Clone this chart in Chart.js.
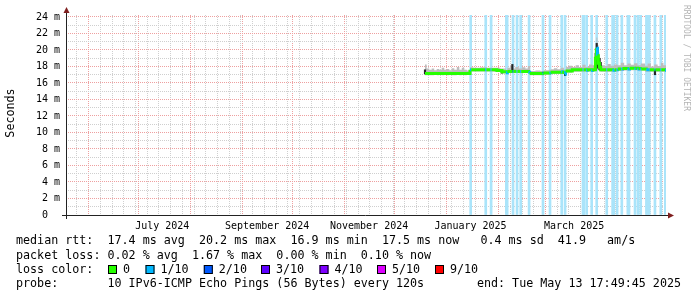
<!DOCTYPE html>
<html>
<head>
<meta charset="utf-8">
<title>SmokePing median rtt</title>
<script src="https://cdn.jsdelivr.net/npm/chart.js@4.4.1/dist/chart.umd.min.js"></script>
<style>
  html, body { margin: 0; padding: 0; background: #fff; }
  #wrap { width: 697px; height: 297px; }
</style>
</head>
<body>
<div id="wrap"><canvas id="smoke" width="697" height="297"></canvas></div>
<script>
"use strict";
// x values are days counted from 2025-01-01 00:00
const X_MIN = -227.5;
const X_MAX = 131.0;
const Y_MAX = 24.24;

const yTicks = [0, 1, 2, 3, 4, 5, 6, 7, 8, 9, 10, 11, 12, 13, 14, 15, 16, 17, 18, 19, 20, 21, 22, 23, 24];
const monthStarts = [-214, -184, -153, -122, -92, -61, -31, 0, 31, 59, 90, 120];
const monthLabels = ["July 2024", "September 2024", "November 2024", "January 2025", "March 2025"];
const monthLabelDays = [-170, -107.3, -46.4, 14.2, 76.1];

// median rtt (ms), step values starting at each day
const rttDays = [-13.0, 13.9, 14.6, 22.9, 23.7, 26.2, 26.8, 30.0, 33.0, 35.4, 36.2, 39.3, 39.9, 41.7, 42.3, 43.9,
  44.5, 48.9, 49.5, 57.2, 57.8, 61.4, 62.0, 68.4, 69.0, 70.4, 71.0, 75.0, 81.2, 81.8, 83.3, 83.9, 86.3, 86.9,
  88.8, 89.4, 90.0, 90.6, 91.2, 92.0, 95.3, 95.9, 99.0, 100.2, 101.5, 102.1, 104.3, 104.9, 108.0, 109.2, 112.2,
  112.8, 114.0, 114.6, 115.6, 116.2, 119.2, 121.3, 124.1, 124.7, 127.6, 128.2, 130.4, 131.0];
const rttMedian = [17.15, 17.6, 17.6, 17.6, 17.6, 17.6, 17.6, 17.5, 17.35, 17.25, 17.4, 17.4, 17.4, 17.4, 17.4, 17.4,
  17.4, 17.3, 17.15, 17.2, 17.2, 17.25, 17.3, 17.35, 17.3, 17.1, 17.45, 17.6, 17.6, 17.6, 17.55, 17.6, 17.5, 17.6,
  19.0, 20.2, 19.3, 18.4, 17.9, 17.6, 17.6, 17.6, 17.55, 17.6, 17.6, 17.7, 17.7, 17.75, 17.7, 17.8, 17.75,
  17.8, 17.7, 17.75, 17.7, 17.7, 17.6, 17.6, 17.6, 17.6, 17.6, 17.6, 17.55, 17.55];
const rttLoss = [0, 1, 0, 1, 0, 1, 0, 0, 0, 1, 0, 1, 0, 1, 0, 1,
  0, 1, 0, 1, 0, 1, 0, 1, 0, 1, 0, 0, 1, 0, 1, 0, 1, 0,
  0, 1, 0, 0, 0, 0, 1, 0, 1, 0, 1, 0, 1, 0, 1, 0, 1,
  0, 1, 0, 1, 0, 1, 0, 1, 0, 1, 0, 1, 1];

// smoke envelope (ms)
const smokeDays = [-13.0, -12.0, -10.5, -9.0, -7.5, -6.0, -4.5, -3.0, -1.5, 0.0, 1.5, 3.0, 4.5, 6.0, 7.5, 9.0, 10.5,
  12.0, 13.9, 16.0, 20.0, 24.0, 28.0, 32.0, 35.4, 36.2, 38.0, 39.6, 41.0, 43.0, 45.0, 47.0, 48.5, 49.8, 53.0, 56.0,
  58.0, 61.0, 62.3, 64.0, 66.0, 68.0, 70.0, 71.3, 73.0, 75.0, 77.0, 79.0, 81.0, 83.0, 85.0, 87.0, 88.8, 89.4, 90.0,
  90.6, 91.2, 92.0, 94.0, 96.0, 98.0, 100.0, 102.0, 104.0, 106.0, 108.0, 110.0, 112.0, 114.0, 116.0, 118.5, 120.0,
  122.0, 124.0, 126.0, 128.0, 129.5, 131.0];
const smokeLow = [16.95, 16.95, 16.95, 16.95, 17.0, 16.95, 17.0, 16.95, 17.0, 16.95, 17.0, 16.95, 16.95, 17.0, 16.95, 17.0, 16.95,
  17.0, 17.4, 17.4, 17.4, 17.4, 17.35, 17.15, 17.05, 17.2, 17.2, 17.2, 17.2, 17.2, 17.2, 17.2, 17.15, 16.95, 16.95, 16.95,
  17.0, 17.0, 17.1, 17.1, 17.1, 17.1, 16.95, 17.25, 17.25, 17.35, 17.35, 17.35, 17.35, 17.35, 17.35, 17.35, 17.5, 17.7, 17.6,
  17.5, 17.4, 17.35, 17.35, 17.35, 17.35, 17.35, 17.45, 17.45, 17.5, 17.5, 17.55, 17.55, 17.5, 17.5, 17.35, 17.35,
  17.35, 17.35, 17.35, 17.35, 17.35, 17.35];
const smokeHigh = [18.25, 17.75, 17.6, 17.75, 17.55, 17.7, 17.6, 17.85, 17.6, 17.7, 17.55, 17.8, 17.6, 17.95, 17.6, 17.85, 17.6,
  17.5, 17.9, 17.85, 17.9, 17.85, 17.85, 17.75, 17.55, 17.85, 18.05, 17.75, 17.95, 17.75, 17.9, 17.75, 18.05, 17.45, 17.5, 17.45,
  17.55, 17.6, 17.65, 17.8, 17.65, 17.85, 17.6, 17.95, 18.1, 17.95, 18.15, 17.95, 18.2, 17.95, 18.25, 18.15, 19.6, 21.5, 20.6,
  19.7, 18.9, 18.15, 18.05, 18.3, 18.1, 18.25, 18.15, 18.45, 18.15, 18.35, 18.2, 18.4, 18.15, 18.35, 18.1, 18.35,
  18.0, 18.25, 18.05, 18.45, 18.15, 18.05];

// dark smoke strokes (ms)
const spikeDays = [-13.0, 33.0, 39.2, 57.3, 70.7, 89.0, 89.6, 90.1, 91.3, 92.0, 124.4];
const spikeLow = [17.1, 17.2, 17.3, 17.0, 16.9, 17.6, 18.0, 17.8, 17.6, 17.6, 17.0];
const spikeHigh = [17.6, 17.5, 18.25, 17.3, 17.4, 19.6, 20.8, 20.3, 19.0, 18.5, 17.6];

// intervals with packet loss
const lossDays = [14.3, 23.3, 26.5, 35.6, 36.1, 39.6, 42.0, 44.2, 49.2, 57.5, 61.7, 68.7, 70.7, 81.4, 81.9, 83.6,
  86.6, 89.6, 95.6, 99.1, 99.8, 101.8, 104.6, 108.2, 108.9, 112.5, 114.3, 115.9, 119.3, 119.9, 121.0, 124.4,
  127.9, 130.6];

const LOSS_COLORS = ["#26ff00", "#00b8ff", "#0059ff", "#5e00ff", "#7e00ff", "#dd00ff", "#ff0000"];
const LOSS_LABELS = ["0", "1/10", "2/10", "3/10", "4/10", "5/10", "9/10"];
const GRID = "#cfcfcf";
const MGRID = "#eea0a0";
const MONO = '"DejaVu Sans Mono", monospace';

// weekly grid lines fall on saturdays
const weekLines = [];
for (let d = 3 - 7 * 32; d < X_MAX; d += 7) weekLines.push(d);

const legendSwatchX = [108, 145.5, 203.8, 261, 319.5, 377, 435];

const rrdDecor = {
  id: "rrdDecor",
  afterDraw(chart) {
    const { ctx, chartArea: a } = chart;
    ctx.save();
    ctx.strokeStyle = "#222";
    ctx.lineWidth = 1;
    ctx.beginPath();
    ctx.moveTo(a.left + 0.5, a.bottom + 4);
    ctx.lineTo(a.left + 0.5, a.top - 3);
    ctx.moveTo(a.left - 4, a.bottom + 0.5);
    ctx.lineTo(a.right + 3, a.bottom + 0.5);
    ctx.stroke();

    ctx.fillStyle = "#7f1f1f";
    ctx.beginPath();
    ctx.moveTo(a.left + 0.5, a.top - 8);
    ctx.lineTo(a.left - 2.5, a.top - 2);
    ctx.lineTo(a.left + 3.5, a.top - 2);
    ctx.fill();
    ctx.beginPath();
    ctx.moveTo(a.right + 8, a.bottom + 0.5);
    ctx.lineTo(a.right + 2, a.bottom - 2.5);
    ctx.lineTo(a.right + 2, a.bottom + 3.5);
    ctx.fill();

    ctx.fillStyle = "#000";
    ctx.font = "11.7px " + MONO;
    ctx.textBaseline = "middle";
    ctx.save();
    ctx.translate(11, 113);
    ctx.rotate(-Math.PI / 2);
    ctx.textAlign = "center";
    ctx.fillText("Seconds", 0, 0);
    ctx.restore();

    ctx.textAlign = "left";
    ctx.fillText("median rtt:  17.4 ms avg  20.2 ms max  16.9 ms min  17.5 ms now   0.4 ms sd  41.9   am/s", 16, 241);
    ctx.fillText("packet loss: 0.02 % avg  1.67 % max  0.00 % min  0.10 % now", 16, 255.5);
    ctx.fillText("loss color:", 16, 269.5);
    LOSS_COLORS.forEach((c, i) => {
      const x = legendSwatchX[i];
      ctx.fillStyle = c;
      ctx.fillRect(x, 265, 9, 9);
      ctx.strokeStyle = "#000";
      ctx.strokeRect(x + 0.5, 265.5, 8, 8);
      ctx.fillStyle = "#000";
      ctx.fillText(LOSS_LABELS[i], x + 15, 269.5);
    });
    ctx.fillText("probe:       10 IPv6-ICMP Echo Pings (56 Bytes) every 120s", 16, 283.5);
    ctx.textAlign = "right";
    ctx.fillText("end: Tue May 13 17:49:45 2025", 681, 283.5);

    ctx.save();
    ctx.translate(686, 5);
    ctx.rotate(Math.PI / 2);
    ctx.textAlign = "left";
    ctx.fillStyle = "#b4b4b4";
    ctx.font = "8px " + MONO;
    ctx.fillText("RRDTOOL / TOBI OETIKER", 0, 0);
    ctx.restore();
    ctx.restore();
  },
};

const smokeCtx = document.getElementById("smoke");
const smokeChart = new Chart(smokeCtx, {
  type: "line",
  data: {
    datasets: [
      {
        type: "bar",
        label: "loss",
        data: lossDays.map((d) => ({ x: d, y: Y_MAX })),
        backgroundColor: "#aae4fa",
        barThickness: 2,
        stack: "marks",
        order: 6,
      },
      {
        label: "smoke min",
        data: smokeDays.map((d, i) => ({ x: d, y: smokeLow[i] })),
        borderColor: "transparent",
        borderWidth: 0,
        pointRadius: 0,
        stepped: true,
        fill: false,
        order: 5,
      },
      {
        label: "smoke max",
        data: smokeDays.map((d, i) => ({ x: d, y: smokeHigh[i] })),
        borderColor: "transparent",
        borderWidth: 0,
        backgroundColor: "#bdbdbd",
        pointRadius: 0,
        stepped: true,
        fill: "-1",
        order: 4,
      },
      {
        type: "bar",
        label: "smoke core",
        data: spikeDays.map((d, i) => ({ x: d, y: [spikeLow[i], spikeHigh[i]] })),
        backgroundColor: "#262626",
        barThickness: 1.5,
        stack: "marks",
        order: 3,
      },
      {
        label: "median rtt",
        data: rttDays.map((d, i) => ({ x: d, y: rttMedian[i] })),
        borderColor: LOSS_COLORS[0],
        borderWidth: 3,
        borderCapStyle: "butt",
        pointRadius: 0,
        stepped: true,
        fill: false,
        segment: {
          borderColor: (c) => LOSS_COLORS[rttLoss[c.p0DataIndex]],
        },
        order: 1,
      },
    ],
  },
  options: {
    responsive: false,
    animation: false,
    devicePixelRatio: 1,
    layout: { padding: { left: 0, top: 15, right: 31, bottom: 57 } },
    plugins: { legend: { display: false }, tooltip: { enabled: false } },
    scales: {
      x: {
        type: "linear",
        position: "bottom",
        min: X_MIN,
        max: X_MAX,
        offset: false,
        grid: { display: false, offset: false, drawTicks: false },
        border: { display: false },
        afterBuildTicks: (s) => {
          s.ticks = monthLabelDays.map((v) => ({ value: v }));
        },
        afterFit: (s) => {
          s.height = 25;
        },
        ticks: {
          autoSkip: false,
          maxRotation: 0,
          padding: 5,
          color: "#000",
          font: { family: MONO, size: 10 },
          callback: (v, i) => monthLabels[i],
        },
      },
      xg: {
        type: "linear",
        position: "top",
        min: X_MIN,
        max: X_MAX,
        offset: false,
        afterBuildTicks: (s) => {
          s.ticks = weekLines.concat(monthStarts).map((v) => ({ value: v }));
        },
        afterFit: (s) => {
          s.height = 0;
        },
        grid: {
          offset: false,
          drawTicks: false,
          color: (c) => (c.tick && monthStarts.includes(c.tick.value) ? MGRID : GRID),
        },
        border: { display: false, dash: [1, 1] },
        ticks: { display: false },
      },
      y: {
        type: "linear",
        min: 0,
        max: Y_MAX,
        stacked: false,
        afterBuildTicks: (s) => {
          s.ticks = yTicks.map((v) => ({ value: v }));
        },
        afterFit: (s) => {
          s.width = 66;
        },
        grid: {
          drawTicks: false,
          color: (c) => (c.tick && c.tick.value % 2 === 0 ? MGRID : GRID),
        },
        border: { display: false, dash: [1, 1] },
        ticks: {
          autoSkip: false,
          padding: 6,
          color: "#000",
          font: { family: MONO, size: 10 },
          callback: (v) => (v % 2 ? "" : v === 0 ? "0  " : v + " m"),
        },
      },
    },
  },
  plugins: [rrdDecor],
});
</script>
</body>
</html>
